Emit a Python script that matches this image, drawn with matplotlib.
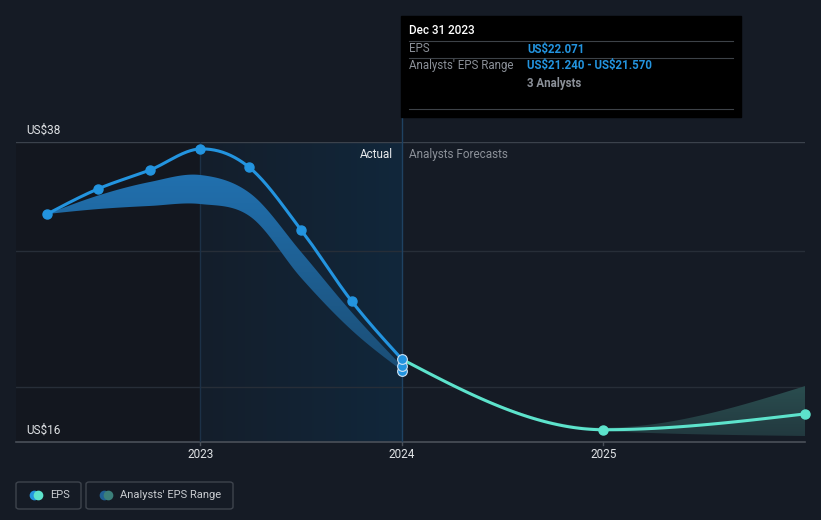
import matplotlib.pyplot as plt
import numpy as np
from matplotlib.patches import FancyBboxPatch, Rectangle
from matplotlib.colors import LinearSegmentedColormap

plt.rcParams['font.family'] = ['Roboto', 'DejaVu Sans']
plt.rcParams['text.parse_math'] = False

# reported EPS, quarter ends
eps_x = [2022.24, 2022.49, 2022.75, 2023.0, 2023.24, 2023.5, 2023.75, 2024.0]
eps_y = [32.72, 34.55, 35.95, 37.49, 36.17, 31.55, 26.34, 22.071]

# analysts' range (past)
range_x = [2022.24, 2022.5, 2022.75, 2023.0, 2023.25, 2023.5, 2023.75, 2024.0]
range_hi = [32.72, 34.11, 35.07, 35.58, 34.2, 29.93, 25.53, 21.57]
range_lo = [32.72, 33.09, 33.31, 33.45, 32.5, 28.03, 24.21, 21.24]

# forecasts
fc_x = [2024.0, 2025.0, 2026.0]
fc_y = [22.071, 16.9, 18.06]
fc_hi = [22.071, 17.05, 20.1]
fc_lo = [22.071, 16.8, 16.44]

years = [2023, 2024, 2025]
year_labels = ['2023', '2024', '2025']

BG = '#151b25'
W, H = 821, 520


def smooth(xs, ys, mono=True, n=60):
    # cubic hermite through the points, for drawing only
    x = np.asarray(xs, float)
    y = np.asarray(ys, float)
    h = np.diff(x)
    s = np.diff(y) / h
    t = np.zeros_like(y)
    for i in range(1, len(x) - 1):
        if mono:
            p = (s[i - 1] * h[i] + s[i] * h[i - 1]) / (h[i - 1] + h[i])
            t[i] = (np.sign(s[i - 1]) + np.sign(s[i])) * min(abs(s[i - 1]), abs(s[i]), 0.5 * abs(p))
        else:
            t[i] = (y[i + 1] - y[i - 1]) / (x[i + 1] - x[i - 1])
    if len(x) > 2:
        t[0] = (3 * s[0] - t[1]) / 2
        t[-1] = (3 * s[-1] - t[-2]) / 2
    else:
        t[:] = s[0]
    xo, yo = [], []
    u = np.linspace(0, 1, n)
    for i in range(len(x) - 1):
        dx = h[i]
        px = [x[i], x[i] + dx / 3, x[i + 1] - dx / 3, x[i + 1]]
        py = [y[i], y[i] + dx * t[i] / 3, y[i + 1] - dx * t[i + 1] / 3, y[i + 1]]
        b = [(1 - u)**3, 3 * u * (1 - u)**2, 3 * u**2 * (1 - u), u**3]
        xo.append(sum(bb * pp for bb, pp in zip(b, px)))
        yo.append(sum(bb * pp for bb, pp in zip(b, py)))
    return np.concatenate(xo), np.concatenate(yo)


def fx(px):
    return px / W


def fy(py):
    return 1 - py / H


def grad_fill(ax, xs, lo, hi, c_top, c_bot, ylo, yhi):
    poly = ax.fill_between(xs, lo, hi, color='none', lw=0)
    cm = LinearSegmentedColormap.from_list('b', [c_bot, c_top])
    im = ax.imshow(np.linspace(0, 1, 256).reshape(-1, 1), origin='lower', cmap=cm,
                   extent=[xs.min(), xs.max(), ylo, yhi], aspect='auto', zorder=2)
    im.set_clip_path(poly.get_paths()[0], transform=ax.transData)


fig = plt.figure(figsize=(8.21, 5.2), dpi=100, facecolor=BG)
ax = fig.add_axes([fx(16), fy(442), fx(805) - fx(16), (442 - 142) / H])
ax.set_facecolor(BG)
x0, x1 = 2022.085, 2026.0

# darker past region and the shaded "actual" year
ax.add_patch(Rectangle((x0, 16), 2023 - x0, 22, color='#13171f', zorder=0))
cmap = LinearSegmentedColormap.from_list('g', ['#141e2b', '#11273b'])
ax.imshow(np.linspace(0, 1, 256).reshape(1, -1), extent=[2023, 2024, 16, 38],
          aspect='auto', cmap=cmap, zorder=0.5)

# grid
for v in [30, 20]:
    ax.axhline(v, color='#272e38', lw=1, zorder=1)
ax.axhline(38, color='#3b424c', lw=1, zorder=1)
ax.axhline(16, color='#4a5059', lw=1.2, zorder=1, clip_on=False)
ax.axvline(2023, color='#1c3147', lw=1, zorder=1)
ax.plot([2024, 2024], [16, 39.83], color='#1f4262', lw=1, zorder=1, clip_on=False)
for yr, lab in zip(years, year_labels):
    ax.plot([yr, yr], [16, 15.75], color='#4a5059', lw=1, clip_on=False)
    ax.text(yr, 15.1, lab, color='#e0e3e6', fontsize=8.5, ha='center', va='center')

# past range band
bx, bh = smooth(range_x, range_hi, mono=False)
_, bl = smooth(range_x, range_lo, mono=False)
grad_fill(ax, bx, bl, bh, '#2171b0', '#1b4d74', 21, 36)

# forecast band
fxs, fh = smooth(fc_x, fc_hi)
_, fl = smooth(fc_x, fc_lo)
grad_fill(ax, fxs, fl, fh, '#2c5253', '#22393f', 16.4, 21)

# lines
ex, ey = smooth(eps_x, eps_y, mono=False)
ax.plot(ex, ey, color='#2394df', lw=2.2, zorder=3, solid_capstyle='round')
ax.plot(eps_x[:-1], eps_y[:-1], 'o', color='#2394df', ms=6.5, zorder=4, clip_on=False)
cx, cy = smooth(fc_x, fc_y)
ax.plot(cx, cy, color='#5de3cc', lw=2.2, zorder=3, solid_capstyle='round')
ax.plot(fc_x[1:], fc_y[1:], 'o', color='#5de3cc', ms=6.5, zorder=4, clip_on=False)
ax.plot([2024] * 3, [range_lo[-1], range_hi[-1], eps_y[-1]], 'o', color='#2394df',
        mec='#cfe3f5', mew=0.8, ms=7, zorder=5, clip_on=False)

ax.set_xlim(x0, x1)
ax.set_ylim(16, 38)
for sp in ax.spines.values():
    sp.set_visible(False)
ax.set_xticks([])
ax.set_yticks([])

# axis labels
fig.text(fx(26), fy(130), 'US$38', color='#e0e3e6', fontsize=8.5, va='center')
fig.text(fx(26), fy(430), 'US$16', color='#e0e3e6', fontsize=8.5, va='center')
fig.text(fx(393), fy(154), 'Actual', color='#e8eaed', fontsize=8.5, va='center', ha='right')
fig.text(fx(409), fy(154), 'Analysts Forecasts', color='#8b9098', fontsize=8.5, va='center')

# tooltip
fig.patches.append(Rectangle((fx(401), fy(117)), fx(741) - fx(401), (117 - 16) / H,
                             transform=fig.transFigure, color='#000000', zorder=10))
for yy in [41, 58, 109]:
    fig.add_artist(plt.Line2D([fx(409), fx(733)], [fy(yy), fy(yy)], color='#3d4248',
                              lw=0.8, transform=fig.transFigure, zorder=11))
fig.text(fx(409), fy(31), 'Dec 31 2023', color='#ffffff', fontsize=8.5, va='center',
         fontweight='medium', zorder=12)
fig.text(fx(409), fy(49), 'EPS', color='#8b9098', fontsize=8.3, va='center', zorder=12)
fig.text(fx(527), fy(49), 'US$22.071', color='#2394df', fontsize=8.3, va='center',
         fontweight='bold', zorder=12)
fig.text(fx(409), fy(66), "Analysts' EPS Range", color='#8b9098', fontsize=8.3, va='center', zorder=12)
fig.text(fx(527), fy(66), 'US$21.240 - US$21.570', color='#2394df', fontsize=8.3, va='center',
         fontweight='bold', zorder=12)
fig.text(fx(527), fy(83), '3 Analysts', color='#8b9098', fontsize=8.3, va='center',
         fontweight='bold', zorder=12)

# legend
for (l, r), label, c1, c2 in [((16, 81), 'EPS', '#2394df', '#5de3cc'),
                              ((86, 233), "Analysts' EPS Range", '#1f5f94', '#3b7f7a')]:
    fig.patches.append(FancyBboxPatch((fx(l), fy(509)), fx(r) - fx(l), 27 / H,
                                      boxstyle='round,pad=0,rounding_size=0.004',
                                      transform=fig.transFigure, fc='none',
                                      ec='#3e444d', lw=1))
    fig.add_artist(plt.Line2D([fx(l + 18)], [fy(495)], marker='o', ms=7, color=c1,
                              mew=0, transform=fig.transFigure))
    fig.add_artist(plt.Line2D([fx(l + 22)], [fy(495)], marker='o', ms=7, color=c2,
                              mew=0, transform=fig.transFigure))
    fig.text(fx(l + 34), fy(495), label, color='#c9ccd0', fontsize=8, va='center')

fig.savefig('out.png', dpi=100, facecolor=BG)
